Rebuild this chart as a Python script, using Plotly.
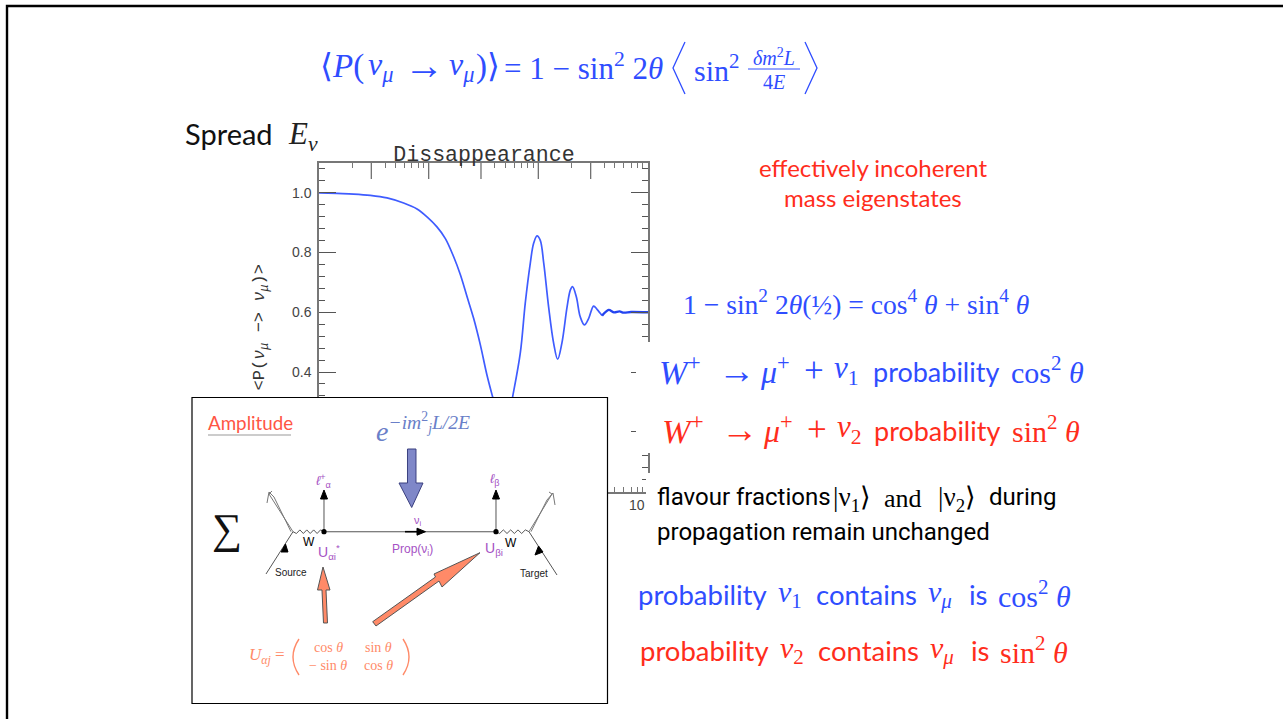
import plotly.graph_objects as go

W, H = 1283, 719

# ---- chart data ------------------------------------------------------
l_over_e = [0.010, 0.0146, 0.0207, 0.0294, 0.0417, 0.0591, 0.0783, 0.0966, 0.119, 0.142, 0.169,
            0.195, 0.224, 0.257, 0.296, 0.340, 0.383, 0.43, 0.48, 0.53, 0.583, 0.685, 0.76, 0.845, 0.906,
            0.973, 1.04, 1.12, 1.24, 1.38, 1.50, 1.64, 1.83, 1.96, 2.05, 2.22, 2.41,
            2.63, 2.88, 3.19, 3.43, 3.81]
prob_mumu = [1.000, 0.998, 0.996, 0.9916, 0.983, 0.966, 0.946, 0.9195, 0.886, 0.847, 0.786,
             0.725, 0.652, 0.580, 0.491, 0.390, 0.317, 0.25, 0.21, 0.24, 0.317, 0.464, 0.631, 0.765, 0.831,
             0.856, 0.842, 0.765, 0.619, 0.496, 0.443, 0.497, 0.619, 0.675, 0.686, 0.652, 0.585,
             0.558, 0.580, 0.621, 0.610, 0.589]
tail_l_over_e = [3.81, 4.38, 4.9, 5.5, 6.0, 7.0, 10.0]
tail_prob = [0.589, 0.608, 0.600, 0.603, 0.599, 0.601, 0.600]
y_ticks = [0.0, 0.2, 0.4, 0.6, 0.8, 1.0]
y_tick_labels = ["0.0", "0.2", "0.4", "0.6", "0.8", "1.0"]
x_major_ticks = [0.03, 0.1, 0.3, 1, 3]
x_minor_ticks = [m * d for d in (0.01, 0.1, 1) for m in (2, 4, 5, 6, 7, 8, 9)]

BLUE, RED = "#2f4dff", "#ff2d1c"
CORAL, PURPLE = "#ff8a68", "#a552c4"
MATH, SANS, NARROW = "Liberation Serif", "Lato", "Roboto"


def X(p):
    return p / W


def Y(p):
    return 1 - p / H


annotations = []


def T(px, py, text, size, color="#000000", font=SANS, anchor="left", angle=0):
    annotations.append(dict(x=X(px), y=Y(py), xref="paper", yref="paper", text=text, showarrow=False,
                            xanchor=anchor, yanchor="middle", textangle=angle,
                            font=dict(size=size, color=color, family=font)))


shapes = []


def rect(x0, y0, x1, y1, fill="white", line=None, lw=1):
    shapes.append(dict(type="rect", xref="paper", yref="paper", x0=X(x0), x1=X(x1), y0=Y(y0), y1=Y(y1),
                       fillcolor=fill, line=dict(width=lw if line else 0, color=line or fill), layer="above"))


def path(points, color="#000000", lw=1, fill=None, close=False):
    d = "M " + " L ".join(f"{X(a):.5f} {Y(b):.5f}" for a, b in points) + (" Z" if close else "")
    shapes.append(dict(type="path", xref="paper", yref="paper", path=d, layer="above",
                       fillcolor=fill or "rgba(0,0,0,0)", line=dict(color=color, width=lw)))


def paren(x_tip, x_mid, y0, y1, color, lw=1.4):
    ym = (y0 + y1) / 2
    d = (f"M {X(x_tip):.5f} {Y(y0):.5f} Q {X(x_mid):.5f} {Y(ym):.5f} {X(x_tip):.5f} {Y(y1):.5f}")
    shapes.append(dict(type="path", xref="paper", yref="paper", path=d, layer="above",
                       line=dict(color=color, width=lw)))


# ---- tall ticks along the top of the plot, placed by the x axis -----------
for v in x_major_ticks:
    shapes.append(dict(type="line", xref="x", yref="paper", x0=v, x1=v, y0=Y(163), y1=Y(179),
                       line=dict(color="#707070", width=1.3), layer="above"))

# ---- white text boxes that cover the plot in the slide ------------------
rect(636, 342, 1100, 453)
rect(646, 473, 1100, 520)

# ---- slide frame --------------------------------------------------------
path([(7, 719), (7, 6), (1283, 6)], "#000000", 2.4)

# ---- inset -------------------------------------------------------------
rect(192, 397.5, 607.5, 703.5, "white", "#000000", 1.2)
path([(208, 435), (291, 435)], "#999999", 1.2)

# blue arrow
path([(407.5, 449), (416, 449), (416, 483), (423, 483), (411.7, 507.5), (399, 483), (407.5, 483)],
     "#3b4080", 1, "#7f87c8", True)

LINE = "#555555"
main_y = 531.7
path([(324, main_y), (496, main_y)], LINE, 1.1)
path([(405, main_y), (418, main_y)], "#000000", 1.6)
path([(417, main_y - 3.5), (425.5, main_y), (417, main_y + 3.5)], "#000000", 1, "#000000", True)


def zigzag(x0, x1, y, n=9, amp=1.8):
    pts = [(x0, y)]
    for i in range(1, n):
        pts.append((x0 + (x1 - x0) * i / n, y + (amp if i % 2 else -amp)))
    pts.append((x1, y))
    return pts


path(zigzag(293, 324, main_y), "#444444", 0.9)
path(zigzag(496, 529, main_y), "#444444", 0.9)
for vx in (324, 496):
    path([(vx, main_y), (vx, 498)], LINE, 1)
    path([(vx - 3.5, 499), (vx, 490), (vx + 3.5, 499)], "#000000", 1, "#000000", True)
    shapes.append(dict(type="circle", xref="paper", yref="paper", x0=X(vx - 2.6), x1=X(vx + 2.6),
                       y0=Y(main_y - 2.6), y1=Y(main_y + 2.6), fillcolor="#000000",
                       line=dict(width=0), layer="above"))

# fermion lines at source and target
path([(293, main_y), (266, 574)], LINE, 1)
path([(281, 552), (285.5, 544), (288, 552)], "#000000", 1, "#000000", True)
path([(529, main_y), (557, 575)], LINE, 1)
path([(535, 555), (538.5, 546), (543, 552)], "#000000", 1, "#000000", True)
# hollow double arrows
path([(293, main_y), (269, 494), (272, 491)], "#777777", 1)
path([(291, main_y), (274, 497), (269, 492), (267, 503)], "#777777", 1)
path([(529, main_y), (552, 494), (549, 492)], "#777777", 1)
path([(531, main_y), (547, 500), (553, 493), (555, 505)], "#777777", 1)

# coral arrows
path([(323.5, 623), (322, 590), (317.5, 590), (323, 567), (330, 590), (326, 590), (327.5, 623)],
     "#555555", 1, CORAL, True)
path([(372.7, 621.7), (435.5, 577), (434, 574), (480, 552.7), (442, 587), (439, 581), (376, 626)],
     "#555555", 1, CORAL, True)
paren(299, 287, 639, 675, CORAL)
paren(403, 415, 639, 675, CORAL)

# big angle brackets and fraction bar of the top formula
path([(685, 42), (673, 68), (685, 94)], BLUE, 1.3)
path([(805, 42), (817, 68), (805, 94)], BLUE, 1.3)
path([(748, 69), (800, 69)], BLUE, 1)

# ---- slide text --------------------------------------------------------
T(318, 67, "⟨<i>P</i>(", 33, BLUE, MATH)
T(366, 67, "<i>ν<sub>μ</sub></i>", 32, BLUE, MATH)
T(402, 66, "→", 40, BLUE, MATH)
T(447, 67, "<i>ν<sub>μ</sub></i>", 32, BLUE, MATH)
T(474, 67, ")⟩", 33, BLUE, MATH)
T(502, 67, "= 1 − sin<sup>2</sup> 2<i>θ</i>", 31, BLUE, MATH)
T(692, 68, "sin<sup>2</sup>", 30, BLUE, MATH)
T(774, 57, "<i>δm</i><sup>2</sup><i>L</i>", 20, BLUE, MATH, "center")
T(774, 82, "4<i>E</i>", 20, BLUE, MATH, "center")

T(183, 133, "Spread", 29, "#111111", SANS)
T(286, 136, "<i>E<sub>ν</sub></i>", 31, "#222222", MATH)

T(873, 167, "effectively incoherent", 24, RED, SANS, "center")
T(873, 197, "mass eigenstates", 24, RED, SANS, "center")

T(681, 303, "1 − sin<sup>2</sup> 2<i>θ</i>(½) = cos<sup>4</sup> <i>θ</i> + sin<sup>4</sup> <i>θ</i>", 27.6, BLUE, MATH)

for yy, col, sub, fn, dx, dprob in ((370, BLUE, "1", "cos", 0, 0), (429, RED, "2", "sin", 3, 1)):
    T(657 + dx, yy, "<i>W</i><sup>+</sup>", 34, col, MATH)
    T(716 + dx, yy, "→", 37, col, MATH)
    T(758 + dx, yy, "<i>μ</i><sup>+</sup>", 32, col, MATH)
    T(802 + dx, yy, "+", 35, col, MATH)
    T(832 + dx, yy, f"<i>ν</i><sub>{sub}</sub>", 31, col, MATH)
    T(871 + dprob, yy + 1, "probability", 27, col, SANS)
    T(1009 + dprob, yy, f"{fn}<sup>2</sup> <i>θ</i>", 30, col, MATH)

T(655, 497, "flavour fractions", 24, "#000000", NARROW)
T(831, 499, "|ν<sub>1</sub>⟩", 27, "#000000", MATH)
T(882, 498, "and", 26, "#000000", MATH)
T(936, 499, "|ν<sub>2</sub>⟩", 27, "#000000", MATH)
T(987, 497, "during", 24, "#000000", NARROW)
T(655, 532, "propagation remain unchanged", 24, "#000000", NARROW)

for yy, col, sub, fn, dx in ((594, BLUE, "1", "cos", 0), (650, RED, "2", "sin", 2)):
    T(636 + dx, yy, "probability", 27.5, col, SANS)
    T(776 + dx, yy, f"<i>ν</i><sub>{sub}</sub>", 30, col, MATH)
    T(814 + dx, yy, "contains", 27.5, col, SANS)
    T(926 + dx, yy, "<i>ν<sub>μ</sub></i>", 30, col, MATH)
    T(967 + dx, yy, "is", 27.5, col, SANS)
    T(996 + dx, yy, f"{fn}<sup>2</sup> <i>θ</i>", 30, col, MATH)

T(637, 505, "10", 14, "#444444", "Liberation Sans", "center")

# ---- inset text --------------------------------------------------------
T(206, 422, "Amplitude", 18.8, "#ff5544", SANS)
T(374, 428, "<i>e</i><sup><i>−im</i><sup>2</sup><i><sub>j</sub>L/2E</i></sup>", 28, "#6a7fc8", MATH)
T(227, 529, "∑", 42, "#111111", MATH, "center")
T(323, 481, "<i>ℓ</i><sup>+</sup><sub>α</sub>", 13, PURPLE, "Liberation Sans", "center")
T(494, 479, "<i>ℓ</i><sub>β</sub>", 13, PURPLE, "Liberation Sans", "center")
T(418, 521, "ν<sub>i</sub>", 11, PURPLE, "Liberation Sans", "center")
T(309, 542, "W", 12, "#000000", "Liberation Sans", "center")
T(511, 543, "W", 12, "#000000", "Liberation Sans", "center")
T(329, 552, "U<sub>αi</sub><sup>*</sup>", 14, PURPLE, "Liberation Sans", "center")
T(412, 550, "Prop(ν<sub>i</sub>)", 12, PURPLE, "Liberation Sans", "center")
T(494, 549, "U<sub>βi</sub>", 14, PURPLE, "Liberation Sans", "center")
T(291, 572, "Source", 10, "#222222", "Liberation Sans", "center")
T(534, 573, "Target", 10, "#222222", "Liberation Sans", "center")
T(247, 656, "<i>U<sub>αj</sub></i> =", 17, CORAL, MATH)
T(328, 647, "cos <i>θ</i>", 14, CORAL, MATH, "center")
T(378, 647, "sin <i>θ</i>", 14, CORAL, MATH, "center")
T(328, 665, "− sin <i>θ</i>", 14, CORAL, MATH, "center")
T(378, 665, "cos <i>θ</i>", 14, CORAL, MATH, "center")

# ---- figure ------------------------------------------------------------
fig = go.Figure()
fig.add_trace(go.Scatter(x=l_over_e, y=prob_mumu, mode="lines",
                         line=dict(color="#3f5cff", width=1.7, shape="spline", smoothing=1.0),
                         hoverinfo="skip", showlegend=False))
fig.add_trace(go.Scatter(x=tail_l_over_e, y=tail_prob, mode="lines",
                         line=dict(color="#2444f0", width=2.4, shape="spline", smoothing=0.8),
                         hoverinfo="skip", showlegend=False))
AX = "#777777"
fig.update_layout(
    width=W, height=H, margin=dict(l=0, r=0, t=0, b=0, autoexpand=False), autosize=False,
    paper_bgcolor="white", plot_bgcolor="white", showlegend=False,
    title=dict(text="Dissappearance", x=X(484), y=Y(153), xref="paper", yref="paper", xanchor="center", yanchor="middle",
               font=dict(family="Liberation Mono", size=21.6, color="#333333")),
    xaxis=dict(type="log", range=[-2, 1], domain=[X(319), X(648)], showgrid=False, zeroline=False,
               showline=True, linecolor=AX, linewidth=1.5, mirror="allticks", ticks="inside", ticklen=5,
               tickwidth=1.2, tickcolor=AX, tickmode="array", tickvals=x_minor_ticks, showticklabels=False),
    yaxis=dict(range=[0, 1.1], domain=[Y(491.5), Y(163)], showgrid=False, zeroline=False,
               showline=True, linecolor=AX, linewidth=1.5, mirror="allticks", ticks="inside", ticklen=17,
               tickwidth=1.3, tickcolor="#555555", tickmode="array", tickvals=y_ticks, ticktext=y_tick_labels,
               tickfont=dict(family="Liberation Sans", size=14, color="#444444"), ticklabelstandoff=3,
               minor=dict(dtick=0.04, ticks="inside", ticklen=6, tickwidth=1.1, tickcolor="#555555", showgrid=False),
               title=dict(text="&lt;P(<i>ν<sub>μ</sub></i> −&gt; <i>ν<sub>μ</sub></i>)&gt;", standoff=23,
                          font=dict(family="Liberation Mono", size=17, color="#333333"))),
    shapes=shapes, annotations=annotations,
)

fig.write_html("out.html", config={"responsive": False, "displayModeBar": False},
               default_width="1283px", default_height="719px",
               post_script="document.body.style.margin='0';document.body.style.overflow='hidden';")
